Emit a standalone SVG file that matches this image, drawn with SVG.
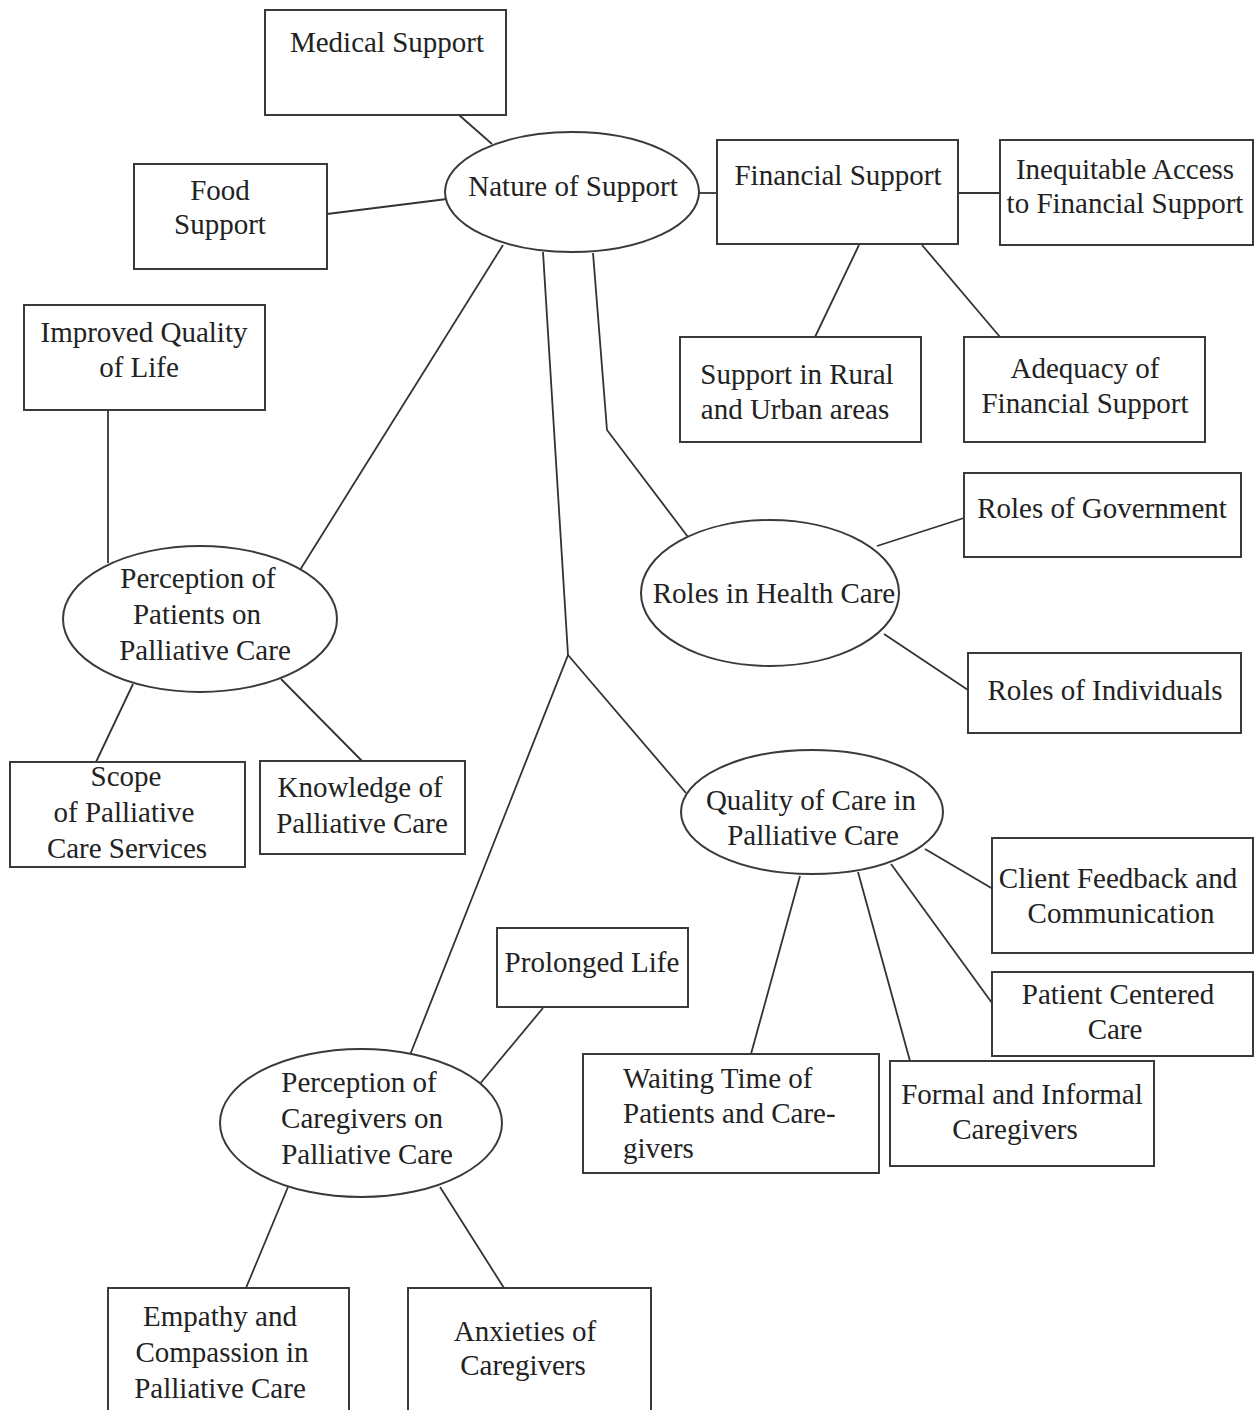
<svg xmlns="http://www.w3.org/2000/svg" width="1255" height="1410" viewBox="0 0 1255 1410">
<style>
.b{fill:#fff;stroke:#3a3a3a;stroke-width:2}
.t{font-family:"Liberation Serif","Times New Roman",serif;font-size:29px;fill:#222;text-anchor:middle}
.l{text-anchor:start}
.c line,.c polyline{stroke:#333;stroke-width:1.8;fill:none}
</style>
<rect width="1255" height="1410" fill="#fff"/>
<g class="c" id="connectors">
<line x1="459" y1="115" x2="492" y2="144"/>
<line x1="327" y1="214" x2="447" y2="199"/>
<line x1="699" y1="193" x2="717" y2="193"/>
<line x1="958" y1="193" x2="1000" y2="193"/>
<line x1="859" y1="245" x2="815" y2="337"/>
<line x1="922" y1="245" x2="1000" y2="337"/>
<line x1="503" y1="245" x2="300" y2="570"/>
<polyline points="593,253 607,430 688,537"/>
<polyline points="543,252 568,655 410,1055"/>
<line x1="568" y1="655" x2="686" y2="793"/>
<line x1="108" y1="410" x2="108" y2="563"/>
<line x1="133" y1="684" x2="96" y2="762"/>
<line x1="281" y1="679" x2="362" y2="761"/>
<line x1="877" y1="546" x2="964" y2="518"/>
<line x1="884" y1="634" x2="968" y2="690"/>
<line x1="925" y1="849" x2="993" y2="889"/>
<line x1="891" y1="864" x2="992" y2="1003"/>
<line x1="800" y1="876" x2="751" y2="1054"/>
<line x1="858" y1="872" x2="910" y2="1061"/>
<line x1="543" y1="1008" x2="479" y2="1085"/>
<line x1="288" y1="1187" x2="246" y2="1288"/>
<line x1="440" y1="1187" x2="504" y2="1288"/>
</g>
<g id="medical"><rect class="b" x="265" y="10" width="241" height="105"/><text class="t" x="387" y="52">Medical Support</text></g>
<g id="food"><rect class="b" x="134" y="164" width="193" height="105"/><text class="t" x="220" y="200">Food</text><text class="t" x="220" y="234">Support</text></g>
<g id="nature"><ellipse class="b" cx="572" cy="192" rx="127" ry="60"/><text class="t" x="573" y="196">Nature of Support</text></g>
<g id="financial"><rect class="b" x="717" y="140" width="241" height="104"/><text class="t" x="838" y="185">Financial Support</text></g>
<g id="inequitable"><rect class="b" x="1000" y="140" width="253" height="105"/><text class="t" x="1125" y="179">Inequitable Access</text><text class="t" x="1125" y="213">to Financial Support</text></g>
<g id="rural"><rect class="b" x="680" y="337" width="241" height="105"/><text class="t" x="797" y="384">Support in Rural</text><text class="t" x="795" y="419">and Urban areas</text></g>
<g id="adequacy"><rect class="b" x="964" y="337" width="241" height="105"/><text class="t" x="1085" y="378">Adequacy of</text><text class="t" x="1085" y="413">Financial Support</text></g>
<g id="improved"><rect class="b" x="24" y="305" width="241" height="105"/><text class="t" x="144" y="342">Improved Quality</text><text class="t" x="139" y="377">of Life</text></g>
<g id="perc-patients"><ellipse class="b" cx="200" cy="619" rx="137" ry="73"/><text class="t" x="198" y="588">Perception of</text><text class="t" x="197" y="624">Patients on</text><text class="t" x="205" y="660">Palliative Care</text></g>
<g id="roles-hc"><ellipse class="b" cx="770" cy="593" rx="129" ry="73"/><text class="t" x="774" y="603">Roles in Health Care</text></g>
<g id="roles-gov"><rect class="b" x="964" y="473" width="277" height="84"/><text class="t" x="1102" y="518">Roles of Government</text></g>
<g id="roles-ind"><rect class="b" x="968" y="653" width="273" height="80"/><text class="t" x="1105" y="700">Roles of Individuals</text></g>
<g id="scope"><rect class="b" x="10" y="762" width="235" height="105"/><text class="t" x="126" y="786">Scope</text><text class="t" x="124" y="822">of Palliative</text><text class="t" x="127" y="858">Care Services</text></g>
<g id="knowledge"><rect class="b" x="260" y="761" width="205" height="93"/><text class="t" x="360" y="797">Knowledge of</text><text class="t" x="362" y="833">Palliative Care</text></g>
<g id="quality"><ellipse class="b" cx="812" cy="812" rx="131" ry="62"/><text class="t" x="811" y="810">Quality of Care in</text><text class="t" x="813" y="845">Palliative Care</text></g>
<g id="client"><rect class="b" x="992" y="838" width="261" height="115"/><text class="t" x="1118" y="888">Client Feedback and</text><text class="t" x="1121" y="923">Communication</text></g>
<g id="patient-centered"><rect class="b" x="992" y="972" width="261" height="84"/><text class="t" x="1118" y="1004">Patient Centered</text><text class="t" x="1115" y="1039">Care</text></g>
<g id="prolonged"><rect class="b" x="497" y="928" width="191" height="79"/><text class="t" x="592" y="972">Prolonged Life</text></g>
<g id="waiting"><rect class="b" x="583" y="1054" width="296" height="119"/><text class="t l" x="623" y="1088">Waiting Time of</text><text class="t l" x="623" y="1123">Patients and Care-</text><text class="t l" x="623" y="1158">givers</text></g>
<g id="formal"><rect class="b" x="890" y="1061" width="264" height="105"/><text class="t" x="1022" y="1104">Formal and Informal</text><text class="t" x="1015" y="1139">Caregivers</text></g>
<g id="perc-caregivers"><ellipse class="b" cx="361" cy="1123" rx="141" ry="74"/><text class="t" x="359" y="1092">Perception of</text><text class="t" x="362" y="1128">Caregivers on</text><text class="t" x="367" y="1164">Palliative Care</text></g>
<g id="empathy"><rect class="b" x="108" y="1288" width="241" height="130"/><text class="t" x="220" y="1326">Empathy and</text><text class="t" x="222" y="1362">Compassion in</text><text class="t" x="220" y="1398">Palliative Care</text></g>
<g id="anxieties"><rect class="b" x="408" y="1288" width="243" height="130"/><text class="t" x="525" y="1341">Anxieties of</text><text class="t" x="523" y="1375">Caregivers</text></g>
</svg>
